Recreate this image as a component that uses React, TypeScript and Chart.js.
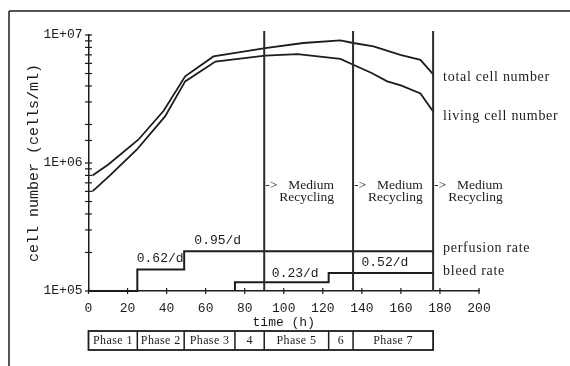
import React, { useEffect, useRef } from 'react';
import { Chart, registerables } from 'chart.js';

Chart.register(...registerables);

// ---- data ----
const totalTime = [2, 10, 25.5, 38.5, 49.5, 64, 90.5, 110, 129, 135.6, 146, 159.7, 170, 176.7];
const totalCells = [8.0e5, 9.7e5, 1.52e6, 2.56e6, 4.75e6, 6.8e6, 7.9e6, 8.66e6, 9.08e6, 8.66e6, 8.15e6, 7.0e6, 6.4e6, 4.9e6];
const livingTime = [2, 11, 24.7, 39.2, 49.5, 65, 90.5, 107, 129, 135.6, 145, 153, 160, 170, 176.7];
const livingCells = [6.0e5, 8.0e5, 1.27e6, 2.31e6, 4.34e6, 6.2e6, 6.9e6, 7.1e6, 6.5e6, 5.86e6, 5.05e6, 4.34e6, 4.04e6, 3.5e6, 2.5e6];
const perfusionTime = [0, 25, 25, 49, 49, 176.5];
const perfusionLevel = [1e5, 1e5, 1.47e5, 1.47e5, 2.04e5, 2.04e5];
const bleedTime = [75, 75, 123, 123, 176.5];
const bleedLevel = [1e5, 1.17e5, 1.17e5, 1.38e5, 1.38e5];
const recyclingTimes = [90, 135.5, 176.5];
const phaseBounds = [0, 25, 49, 75, 90, 123, 135.5, 176.5];
const phaseLabels = ['Phase 1', 'Phase 2', 'Phase 3', '4', 'Phase 5', '6', 'Phase 7'];
const rateLabels = ['0.62/d', '0.95/d', '0.23/d', '0.52/d'];
const rateLabelTime = [36.7, 66.2, 105.9, 151.8];
const rateLabelLevel = [1.79e5, 2.47e5, 1.36e5, 1.66e5];
const yMajorTicks = [1e5, 1e6, 1e7];
const yMajorLabels = ['1E+05', '1E+06', '1E+07'];
const seriesLabels = ['total cell number', 'living cell number', 'perfusion rate', 'bleed rate'];

const INK = '#1c1c1c';
const MONO = '"Liberation Mono", "DejaVu Sans Mono", monospace';
const SERIF = '"Liberation Serif", "DejaVu Serif", serif';

const pts = (xs: number[], ys: number[]) => xs.map((v, i) => ({ x: v, y: ys[i] }));

const decor = {
  id: 'decor',
  afterDraw(chart: any) {
    const { ctx } = chart;
    const x = chart.scales.x;
    const y = chart.scales.y;
    ctx.save();
    ctx.strokeStyle = INK;
    ctx.fillStyle = INK;
    const line = (x1: number, y1: number, x2: number, y2: number) => {
      ctx.beginPath();
      ctx.moveTo(x1, y1);
      ctx.lineTo(x2, y2);
      ctx.stroke();
    };
    // frame
    ctx.lineWidth = 1.5;
    line(9, 11, 570, 11);
    line(9, 11, 9, 366);
    // crossing ticks
    ctx.lineWidth = 1.2;
    const ax = x.left;
    y.ticks.forEach((t: any) => {
      const py = y.getPixelForValue(t.value);
      line(ax - 3.5, py, ax + 3.5, py);
    });
    x.ticks.forEach((t: any) => {
      const px = x.getPixelForValue(t.value);
      line(px, y.bottom - 3, px, y.bottom + 3);
    });
    // recycling vertical lines
    ctx.lineWidth = 2;
    ctx.strokeStyle = '#2a2a2a';
    recyclingTimes.forEach((t) => {
      const px = x.getPixelForValue(t);
      line(px, y.top - 4, px, y.bottom);
    });
    ctx.strokeStyle = INK;
    // recycling texts
    ctx.font = `13.5px ${SERIF}`;
    ctx.textBaseline = 'middle';
    recyclingTimes.forEach((t) => {
      const px = x.getPixelForValue(t);
      const mx = px + 24;
      const w = ctx.measureText('Medium').width;
      ctx.textAlign = 'left';
      ctx.fillText('->', px + 1, 185);
      ctx.fillText('Medium', mx, 185);
      ctx.textAlign = 'right';
      ctx.fillText('Recycling', mx + w, 197);
    });
    // right side labels
    const lx = x.getPixelForValue(recyclingTimes[2]) + 10;
    ctx.textAlign = 'left';
    ctx.font = `14px ${SERIF}`;
    (ctx as any).letterSpacing = '0.7px';
    ctx.fillText(seriesLabels[0], lx, y.getPixelForValue(totalCells[totalCells.length - 1]) + 3);
    ctx.fillText(seriesLabels[1], lx, y.getPixelForValue(livingCells[livingCells.length - 1]) + 4);
    ctx.fillText(seriesLabels[2], lx, y.getPixelForValue(perfusionLevel[perfusionLevel.length - 1]) - 3);
    ctx.fillText(seriesLabels[3], lx, y.getPixelForValue(bleedLevel[bleedLevel.length - 1]) - 2);
    (ctx as any).letterSpacing = '0px';
    // rate labels
    ctx.font = `13px ${MONO}`;
    ctx.textAlign = 'center';
    rateLabels.forEach((s, i) => {
      ctx.fillText(s, x.getPixelForValue(rateLabelTime[i]), y.getPixelForValue(rateLabelLevel[i]));
    });
    // phase boxes
    const top = x.bottom;
    const h = 19;
    const x0 = x.getPixelForValue(phaseBounds[0]);
    const x1 = x.getPixelForValue(phaseBounds[phaseBounds.length - 1]);
    ctx.lineWidth = 1.8;
    ctx.strokeRect(x0, top, x1 - x0, h);
    ctx.lineWidth = 1.5;
    for (let i = 1; i < phaseBounds.length - 1; i++) {
      const px = x.getPixelForValue(phaseBounds[i]);
      line(px, top, px, top + h);
    }
    ctx.font = `12px ${SERIF}`;
    (ctx as any).letterSpacing = '0.4px';
    ctx.textAlign = 'center';
    phaseLabels.forEach((s, i) => {
      const a = x.getPixelForValue(phaseBounds[i]);
      const b = x.getPixelForValue(phaseBounds[i + 1]);
      ctx.fillText(s, (a + b) / 2, top + h / 2 + 0.5);
    });
    (ctx as any).letterSpacing = '0px';
    ctx.restore();
  },
};

export default function App() {
  const ref = useRef<HTMLCanvasElement | null>(null);
  useEffect(() => {
    if (!ref.current) return;
    const lineDs = (data: any[], w: number) => ({
      data,
      borderColor: INK,
      borderWidth: w,
      pointRadius: 0,
      tension: 0,
      fill: false,
      clip: 8,
    });
    const chart = new Chart(ref.current, {
      type: 'line',
      data: {
        datasets: [
          lineDs(pts(totalTime, totalCells), 1.8),
          lineDs(pts(livingTime, livingCells), 1.8),
          lineDs(pts(perfusionTime, perfusionLevel), 2),
          lineDs(pts(bleedTime, bleedLevel), 2),
        ] as any,
      },
      options: {
        responsive: false,
        animation: false,
        devicePixelRatio: 1,
        layout: { padding: { left: 22, top: 35, right: 91, bottom: 35 } },
        plugins: { legend: { display: false }, tooltip: { enabled: false } },
        scales: {
          x: {
            type: 'linear',
            min: 0,
            max: 200,
            grid: { display: false },
            border: { display: true, color: INK, width: 1.5 },
            ticks: {
              stepSize: 20,
              color: INK,
              font: { family: MONO, size: 13 },
              padding: 2,
              maxRotation: 0,
              autoSkip: false,
            },
            title: {
              display: true,
              text: 'time (h)',
              color: INK,
              font: { family: MONO, size: 13 },
              padding: { top: 0, bottom: 1 },
            },
            afterFit: (s: any) => {
              s.height = 40;
            },
          },
          y: {
            type: 'logarithmic',
            min: 1e5,
            max: 1e7,
            grid: { display: false },
            border: { display: true, color: INK, width: 1.5 },
            ticks: {
              color: INK,
              font: { family: MONO, size: 13 },
              padding: -2,
              autoSkip: false,
              callback: (v: any) => {
                const i = yMajorTicks.findIndex((m) => Math.abs(m - Number(v)) / m < 1e-6);
                return i >= 0 ? yMajorLabels[i] : '';
              },
            },
            title: {
              display: true,
              text: 'cell number (cells/ml)',
              color: INK,
              font: { family: MONO, size: 15 },
              padding: { top: 3, bottom: 0 },
            },
            afterFit: (s: any) => {
              s.width = 66.5;
            },
          },
        },
      } as any,
      plugins: [decor],
    });
    return () => chart.destroy();
  }, []);
  return (
    <div style={{ position: 'absolute', left: 0, top: 0, width: 570, height: 366, background: '#fff' }}>
      <canvas ref={ref} width={570} height={366} style={{ display: 'block' }} />
    </div>
  );
}
